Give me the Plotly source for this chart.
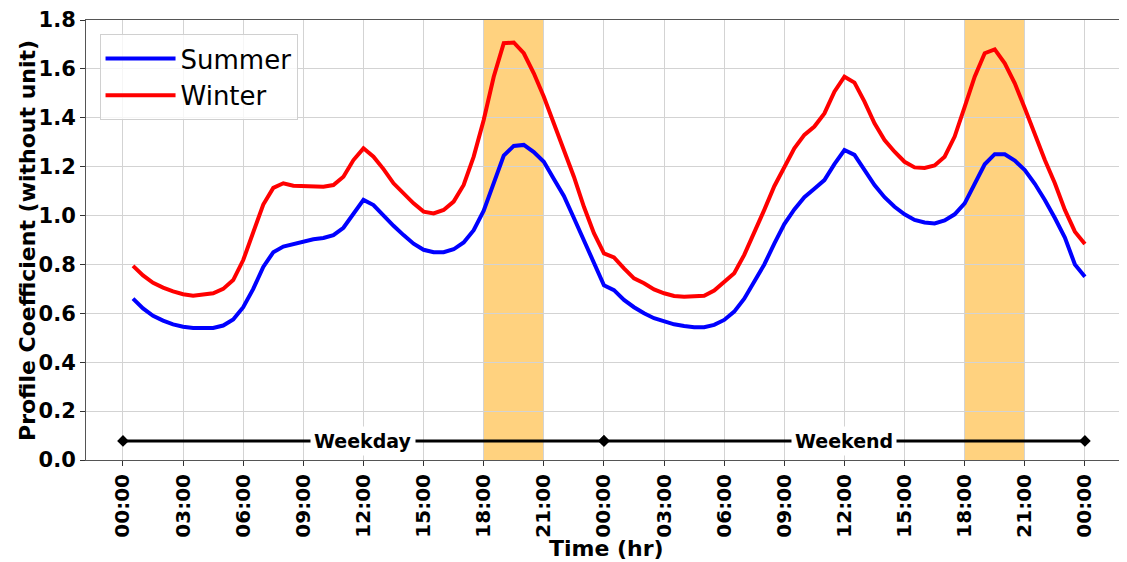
import plotly.graph_objects as go

# half-hour steps over two days (weekday then weekend)
hours = [0.5 * i for i in range(1, 97)]

summer = [
    0.660, 0.620, 0.590, 0.570, 0.555, 0.545, 0.540, 0.540, 0.540, 0.550, 0.575, 0.625,
    0.700, 0.790, 0.850, 0.873, 0.883, 0.893, 0.903, 0.908, 0.920, 0.950, 1.010, 1.064,
    1.043, 1.000, 0.958, 0.920, 0.885, 0.860, 0.850, 0.850, 0.862, 0.890, 0.940, 1.020,
    1.130, 1.245, 1.285, 1.289, 1.260, 1.220, 1.150, 1.080, 0.990, 0.900, 0.810, 0.715,
    0.695, 0.655, 0.625, 0.600, 0.580, 0.566, 0.555, 0.548, 0.543, 0.543, 0.553, 0.573,
    0.607, 0.660, 0.730, 0.800, 0.885, 0.965, 1.025, 1.075, 1.110, 1.145, 1.210, 1.268,
    1.248, 1.190, 1.125, 1.075, 1.036, 1.005, 0.982, 0.972, 0.968, 0.980, 1.005, 1.050,
    1.130, 1.210, 1.251, 1.251, 1.225, 1.186, 1.130, 1.064, 0.990, 0.910, 0.800, 0.750,
]

winter = [
    0.794, 0.755, 0.725, 0.705, 0.690, 0.678, 0.672, 0.675, 0.682, 0.700, 0.736, 0.818,
    0.930, 1.045, 1.113, 1.132, 1.122, 1.122, 1.122, 1.118, 1.125, 1.159, 1.227, 1.275,
    1.241, 1.190, 1.132, 1.090, 1.050, 1.016, 1.009, 1.023, 1.057, 1.125, 1.241, 1.391,
    1.568, 1.705, 1.708, 1.664, 1.582, 1.486, 1.377, 1.268, 1.159, 1.036, 0.928, 0.845,
    0.829, 0.784, 0.743, 0.723, 0.698, 0.682, 0.671, 0.668, 0.668, 0.672, 0.693, 0.730,
    0.764, 0.839, 0.927, 1.023, 1.120, 1.200, 1.275, 1.330, 1.364, 1.418, 1.507, 1.568,
    1.544, 1.466, 1.377, 1.309, 1.261, 1.220, 1.197, 1.195, 1.205, 1.241, 1.323, 1.445,
    1.568, 1.664, 1.680, 1.623, 1.541, 1.439, 1.330, 1.227, 1.132, 1.023, 0.934, 0.884,
]

tick_vals = list(range(0, 49, 3))
tick_text = ["%02d:00" % (h % 24) for h in tick_vals]

peak_windows = [(18, 21), (42, 45)]
periods = [("Weekday", 0, 24), ("Weekend", 24, 48)]
period_y = 0.078

xtick_font = dict(family="DejaVu Sans", size=20, color="black", weight="bold")
ytick_font = dict(family="DejaVu Sans", size=21, color="black", weight="bold")
title_font = dict(family="DejaVu Sans", size=22, color="black", weight="bold")

fig = go.Figure()

for name, x0, x1 in periods:
    fig.add_trace(go.Scatter(
        x=[x0, x1], y=[period_y, period_y],
        mode="lines+markers",
        line=dict(color="black", width=3),
        marker=dict(symbol="diamond", size=9, color="black"),
        showlegend=False, hoverinfo="skip",
    ))
    fig.add_annotation(
        x=(x0 + x1) / 2, y=period_y, text=name, showarrow=False,
        font=dict(family="DejaVu Sans", size=19, color="black", weight="bold"),
        bgcolor="white", borderpad=3,
    )

fig.add_trace(go.Scatter(x=hours, y=summer, mode="lines", name="Summer",
                         line=dict(color="blue", width=4)))
fig.add_trace(go.Scatter(x=hours, y=winter, mode="lines", name="Winter",
                         line=dict(color="red", width=4)))

for x0, x1 in peak_windows:
    fig.add_vrect(x0=x0, x1=x1, fillcolor="orange", opacity=0.5,
                  line_width=0, layer="below")

# axis titles placed by hand so that the plot box stays fixed
fig.add_annotation(xref="paper", yref="paper", x=0.5, y=-0.201,
                   xanchor="center", yanchor="middle",
                   text="Time (hr)", showarrow=False, font=title_font)
fig.add_annotation(xref="paper", yref="paper", x=-0.0567, y=0.5, textangle=-90,
                   xanchor="center", yanchor="middle",
                   text="Profile Coefficient (without unit)", showarrow=False,
                   font=title_font)

# the page body adds an 8px offset, so the figure is 8px smaller than the window
fig.update_layout(
    width=1119, height=554,
    paper_bgcolor="white", plot_bgcolor="white",
    margin=dict(l=78, r=0, t=12, b=102, autoexpand=False),
    showlegend=True,
    legend=dict(
        x=0.013, y=0.968, xanchor="left", yanchor="top",
        font=dict(family="DejaVu Sans", size=26, color="black"),
        bgcolor="rgba(255,255,255,0.8)", bordercolor="#d0d0d0", borderwidth=1,
        itemwidth=70, tracegroupgap=4,
    ),
)

fig.update_xaxes(
    range=[-1.846, 50.1], automargin=False,
    tickmode="array", tickvals=tick_vals, ticktext=tick_text,
    tickangle=-90, tickfont=xtick_font,
    ticks="outside", ticklen=5, tickcolor="#333",
    showgrid=True, gridcolor="#d3d3d3", gridwidth=1,
    showline=True, linecolor="#555", linewidth=1, mirror=True,
    zeroline=False,
)

fig.update_yaxes(
    range=[0, 1.8], dtick=0.2, tickformat=".1f", automargin=False,
    tickfont=ytick_font,
    ticks="outside", ticklen=5, tickcolor="#333",
    showgrid=True, gridcolor="#d3d3d3", gridwidth=1,
    showline=True, linecolor="#555", linewidth=1,
    zeroline=False,
)

fig.write_html("out.html")
